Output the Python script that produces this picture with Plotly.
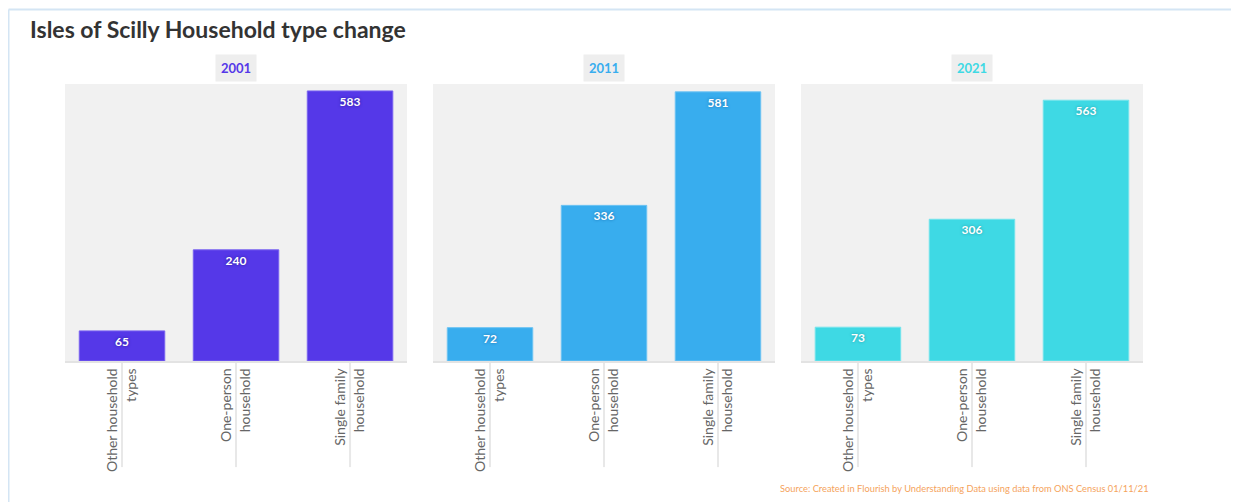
import plotly.graph_objects as go
from plotly.subplots import make_subplots

categories = ["Other household<br>types", "One-person<br>household", "Single family<br>household"]
years = ["2001", "2011", "2021"]
values_2001 = [65, 240, 583]
values_2011 = [72, 336, 581]
values_2021 = [73, 306, 563]
series = [values_2001, values_2011, values_2021]
colors = ["#5538e8", "#38adee", "#3ed9e4"]
line_colors = ["#7a63f0", "#6cc3f3", "#74e4ec"]
shadow_colors = ["#2a1a9a", "#1a6fae", "#1f9aa3"]

fig = make_subplots(rows=1, cols=3, shared_yaxes=False, horizontal_spacing=0.0)

domains = [[0.0, 0.3173], [0.3414, 0.6586], [0.6827, 1.0]]

for i, (yr, vals) in enumerate(zip(years, series)):
    fig.add_trace(go.Bar(
        x=categories, y=vals, text=[str(v) for v in vals],
        textposition="inside", insidetextanchor="end",
        textfont=dict(family="Lato", size=12, color="white", weight="bold",
                      shadow=f"0px 0px 3px {shadow_colors[i]}"),
        marker=dict(color=colors[i], line=dict(color=line_colors[i], width=1)),
        cliponaxis=False, showlegend=False, hoverinfo="x+y",
    ), row=1, col=i + 1)
    ax = "xaxis" if i == 0 else f"xaxis{i+1}"
    ay = "yaxis" if i == 0 else f"yaxis{i+1}"
    fig.layout[ax].update(domain=domains[i], tickangle=-90, showline=True,
                          linecolor="#e3e3e3", linewidth=1.5, ticks="",
                          tickfont=dict(family="Lato", size=14, color="#666666"),
                          showgrid=False)
    fig.layout[ay].update(range=[0, 598], visible=False, showgrid=False)
    xref = "x" if i == 0 else f"x{i+1}"
    yref = "y domain" if i == 0 else f"y{i+1} domain"
    for c in categories:
        fig.add_shape(type="line", xref=xref, yref=yref, x0=c, x1=c, y0=0, y1=-0.383,
                      line=dict(color="#e8e8e8", width=2), layer="below")
    cx = (domains[i][0] + domains[i][1]) / 2
    fig.add_annotation(text=f"<b>{yr}</b>", xref="paper", yref="paper", x=cx, y=1.056,
                       xanchor="center", yanchor="middle",
                       showarrow=False, bgcolor="#eeeeee", borderpad=5,
                       font=dict(family="Lato", size=13, color=colors[i]))

fig.add_annotation(text="<b>Isles of Scilly Household type change</b>", xref="paper", yref="paper",
                   x=-0.0343, y=1.199, xanchor="left", yanchor="middle", showarrow=False,
                   font=dict(family="Lato", size=23, color="#333333"))
fig.add_annotation(text="Source: Created in Flourish by Understanding Data using data from ONS Census 01/11/21",
                   xref="paper", yref="paper", x=1.0075, y=-0.462, xanchor="right", yanchor="middle",
                   showarrow=False, font=dict(family="Lato", size=9.3, color="#f5a35c"))

# light blue frame
fig.add_shape(type="line", xref="paper", yref="paper", x0=-0.0524, x1=1.2, y0=1.269, y1=1.269,
              line=dict(color="#d4e5f4", width=2))
fig.add_shape(type="line", xref="paper", yref="paper", x0=-0.0524, x1=-0.0524, y0=1.269, y1=-0.6,
              line=dict(color="#d4e5f4", width=2))

fig.update_layout(width=1231, height=494, margin=dict(l=57, r=96, t=76, b=141),
                  plot_bgcolor="#f1f1f1", paper_bgcolor="white", bargap=0.25,
                  font=dict(family="Lato"))

fig.write_html("out.html")
